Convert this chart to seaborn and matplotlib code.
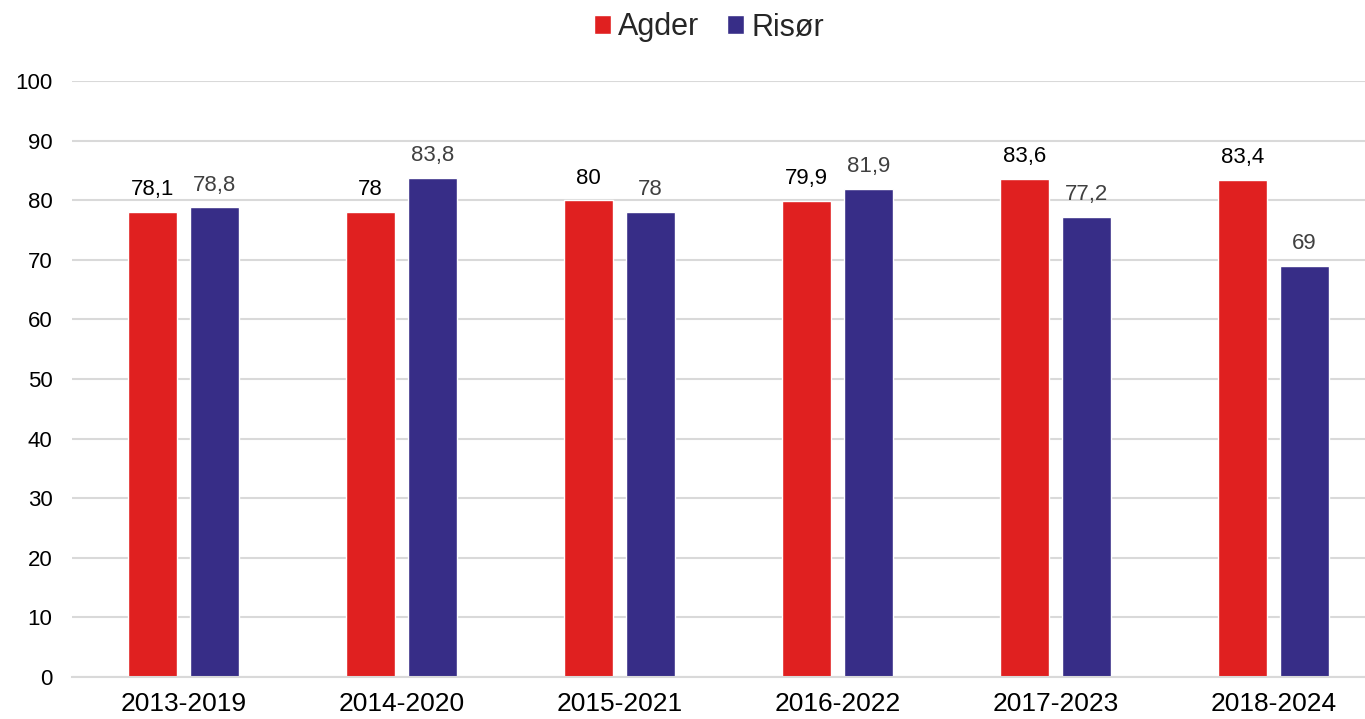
import matplotlib
matplotlib.use("Agg")
import matplotlib.pyplot as plt
import seaborn as sns
import pandas as pd

periods = ["2013-2019", "2014-2020", "2015-2021", "2016-2022", "2017-2023", "2018-2024"]
agder = [78.1, 78, 80, 79.9, 83.6, 83.4]
risor = [78.8, 83.8, 78, 81.9, 77.2, 69]
series_names = ["Agder", "Risør"]
colors = ["#E02020", "#372D87"]
yticks = [0, 10, 20, 30, 40, 50, 60, 70, 80, 90, 100]

df = pd.DataFrame({
    "period": periods * 2,
    "value": agder + risor,
    "series": [series_names[0]] * len(periods) + [series_names[1]] * len(periods),
})

sns.set_theme(style="white")
plt.rcParams["font.family"] = ["Liberation Sans", "DejaVu Sans"]

fig = plt.figure(figsize=(13.65, 7.19), dpi=100)
ax = fig.add_axes([72 / 1365, 42 / 719, (1365 - 72) / 1365, 596 / 719])

sns.barplot(data=df, x="period", y="value", hue="series", palette=colors,
            width=0.57, gap=0.21, ax=ax, saturation=1, legend=True, errorbar=None)

handles, labels = ax.get_legend_handles_labels()
ax.get_legend().remove()

ax.set_ylim(0, 100)
ax.set_xlim(-0.51, 5.42)
ax.set_yticks(yticks)
ax.set_yticklabels([str(t) for t in yticks])
ax.yaxis.grid(True, color="#D9D9D9", linewidth=1.5)
ax.set_axisbelow(True)
for s in ["top", "right", "left"]:
    ax.spines[s].set_visible(False)
ax.spines["bottom"].set_color("#D9D9D9")
ax.spines["bottom"].set_linewidth(1.5)
ax.tick_params(axis="y", length=0, labelsize=16, pad=14, labelcolor="black")
ax.tick_params(axis="x", length=0, labelsize=19, pad=11, labelcolor="black")
ax.set_xlabel("")
ax.set_ylabel("")

label_colors = ["black", "#404040"]
for i, cont in enumerate(ax.containers):
    for bar in cont:
        h = bar.get_height()
        txt = f"{h:g}".replace(".", ",")
        ax.annotate(txt, (bar.get_x() + bar.get_width() / 2, h),
                    xytext=(0, 12), textcoords="offset points",
                    ha="center", va="baseline", fontsize=16, color=label_colors[i])

fig.legend(handles, labels, loc="center", bbox_to_anchor=(709 / 1365, 1 - 27 / 719),
           ncol=2, frameon=False, fontsize=22, handlelength=0.56, handleheight=0.56,
           handletextpad=0.25, columnspacing=0.9, borderaxespad=0)

fig.savefig("out.png", dpi=100)
